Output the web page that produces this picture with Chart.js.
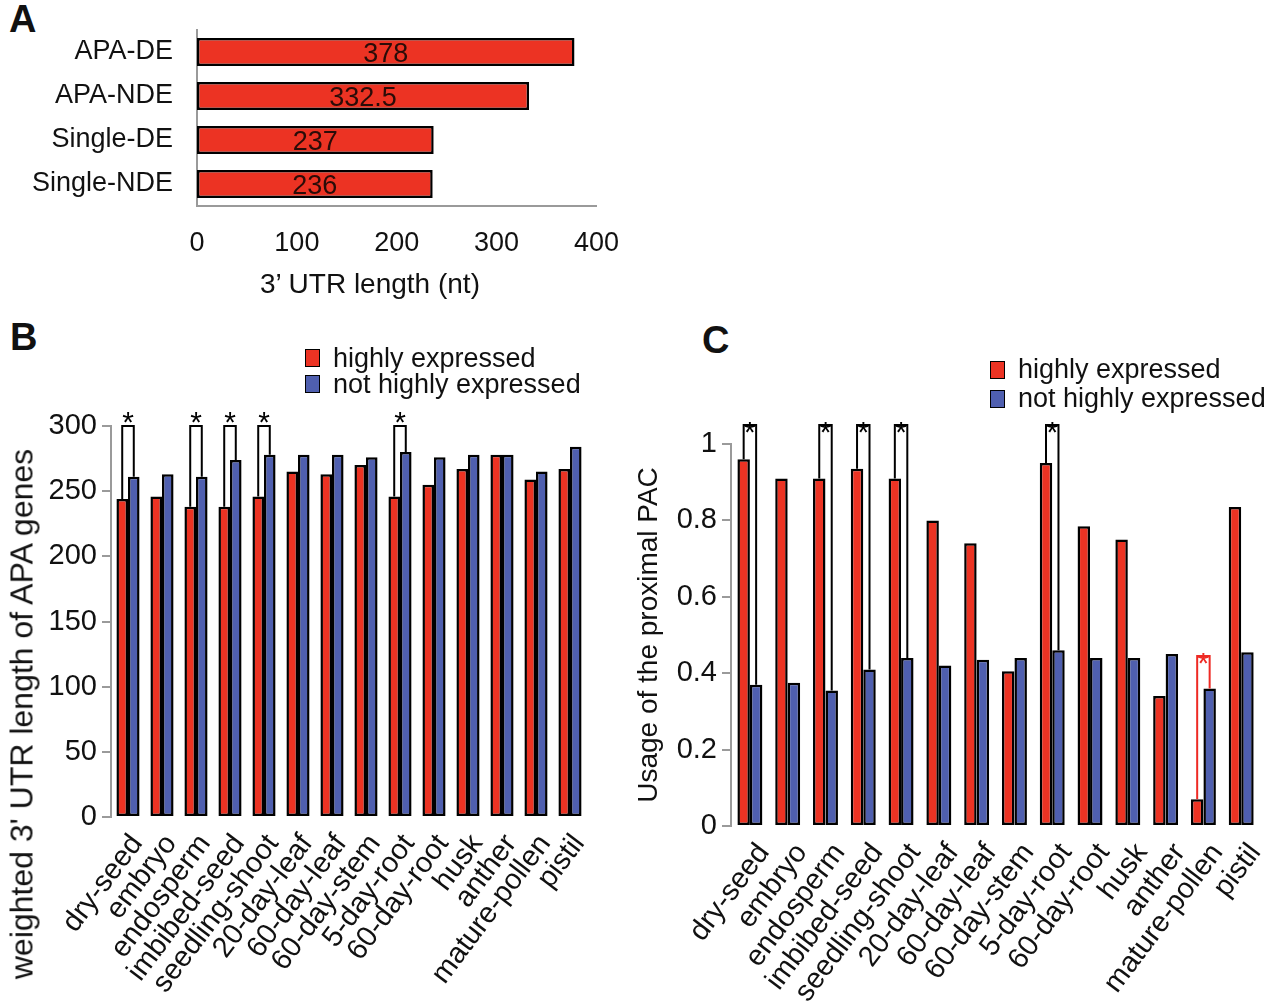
<!DOCTYPE html>
<html>
<head>
<meta charset="utf-8">
<script src="https://cdn.jsdelivr.net/npm/chart.js@4.4.1/dist/chart.umd.min.js"></script>
<style>
body { margin: 0; background: #fff; width: 1280px; height: 1005px; position: relative; overflow: hidden; font-family: "Liberation Sans", Arial, sans-serif; color: #111; }
canvas { position: absolute; }
.panel { position: absolute; font-weight: bold; font-size: 38px; line-height: 38px; }
.leg { position: absolute; font-size: 27px; white-space: nowrap; }
.leg .row { display: flex; align-items: center; }
.leg .sq { width: 13px; height: 16px; border: 1.5px solid #000; margin-right: 13px; }
.xlab { position: absolute; font-size: 28px; white-space: nowrap; transform: translate(-50%, -50%); }
.ylab { position: absolute; font-size: 32px; white-space: nowrap; transform: translate(-50%, -50%) rotate(-90deg); }
</style>
</head>
<body>
<div class="panel" style="left:9px;top:0px">A</div>
<div class="panel" style="left:10px;top:318px">B</div>
<div class="panel" style="left:702px;top:321px">C</div>

<canvas id="chartA" width="640" height="310" style="left:0;top:0"></canvas>
<canvas id="chartB" width="620" height="685" style="left:0;top:320px"></canvas>
<canvas id="chartC" width="660" height="685" style="left:620px;top:320px"></canvas>

<div class="leg" id="legB" style="left:305px;top:345px;line-height:26px"></div>
<div class="leg" id="legC" style="left:990px;top:355px;line-height:29px"></div>
<div class="xlab" style="left:370px;top:284px">3’ UTR length (nt)</div>
<div class="ylab" style="left:22px;top:714px">weighted 3' UTR length of APA genes</div>

<script>
// panel A
const groupsA = ['APA-DE', 'APA-NDE', 'Single-DE', 'Single-NDE'];
const utrA = [378, 332.5, 237, 236];

// panels B and C
const tissues = ['dry-seed', 'embryo', 'endosperm', 'imbibed-seed', 'seedling-shoot', '20-day-leaf',
  '60-day-leaf', '60-day-stem', '5-day-root', '60-day-root', 'husk', 'anther', 'mature-pollen', 'pistil'];
const seriesNames = ['highly expressed', 'not highly expressed'];
const utrHigh = [244, 246, 238, 238, 246, 265, 263, 270, 246, 255, 267, 278, 259, 267];
const utrNot  = [261, 263, 261, 274, 278, 278, 278, 276, 280, 276, 278, 278, 265, 284];
const pacHigh = [0.96, 0.91, 0.91, 0.935, 0.91, 0.80, 0.74, 0.405, 0.95, 0.785, 0.75, 0.34, 0.07, 0.835];
const pacNot  = [0.37, 0.375, 0.355, 0.41, 0.44, 0.42, 0.435, 0.44, 0.46, 0.44, 0.44, 0.45, 0.36, 0.455];
const sigB = ['dry-seed', 'endosperm', 'imbibed-seed', 'seedling-shoot', '5-day-root'];
const sigC = ['dry-seed', 'endosperm', 'imbibed-seed', 'seedling-shoot', '5-day-root'];
const sigCRed = ['mature-pollen'];

const RED = '#EC3323';
const BLUE = '#4F5FAF';
const FONT = '"Liberation Sans", Arial, sans-serif';
const AXIS = '#9a9a9a';

Chart.defaults.font.family = FONT;
Chart.defaults.color = '#111';
Chart.defaults.animation = false;

// legends
['legB', 'legC'].forEach(id => {
  const el = document.getElementById(id);
  el.innerHTML = seriesNames.map((n, k) =>
    `<div class="row"><span class="sq" style="background:${k ? BLUE : RED}"></span>${n}</div>`).join('');
});

const barLabels = {
  id: 'barLabels',
  afterDatasetsDraw(chart) {
    const ctx = chart.ctx;
    ctx.save();
    ctx.font = '27px ' + FONT;
    ctx.fillStyle = '#2a0c08';
    ctx.textAlign = 'center';
    ctx.textBaseline = 'middle';
    chart.getDatasetMeta(0).data.forEach((bar, i) => {
      ctx.fillText(String(utrA[i]), (bar.base + bar.x) / 2, bar.y + 3);
    });
    ctx.restore();
  }
};

const brackets = {
  id: 'brackets',
  afterDraw(chart, args, opts) {
    if (!opts.marks) return;
    const ctx = chart.ctx;
    const ys = chart.scales.y;
    const m0 = chart.getDatasetMeta(0).data;
    const m1 = chart.getDatasetMeta(1).data;
    ctx.save();
    opts.marks.forEach(mk => {
      const i = tissues.indexOf(mk.name);
      const a = m0[i], b = m1[i];
      const top = ys.getPixelForValue(mk.level);
      ctx.strokeStyle = mk.color;
      ctx.lineWidth = 2;
      ctx.beginPath();
      ctx.moveTo(a.x, a.y);
      ctx.lineTo(a.x, top);
      ctx.lineTo(b.x, top);
      ctx.lineTo(b.x, b.y);
      ctx.stroke();
      ctx.fillStyle = mk.color;
      ctx.font = '30px ' + FONT;
      ctx.textAlign = 'center';
      ctx.textBaseline = 'alphabetic';
      ctx.fillText('*', (a.x + b.x) / 2, top + opts.starDy);
    });
    ctx.restore();
  }
};

// A
new Chart(document.getElementById('chartA'), {
  type: 'bar',
  data: {
    labels: groupsA,
    datasets: [{
      data: utrA,
      backgroundColor: RED,
      borderColor: '#000',
      borderWidth: 2.5,
      borderSkipped: false,
      categoryPercentage: 1,
      barPercentage: 0.64
    }]
  },
  options: {
    indexAxis: 'y',
    responsive: false,
    devicePixelRatio: 1,
    layout: { padding: { left: 0, top: 30, right: 43, bottom: 0 } },
    plugins: { legend: { display: false }, tooltip: { enabled: false } },
    scales: {
      x: {
        min: 0, max: 400,
        afterFit: s => { s.height = 104; },
        grid: { display: false, drawTicks: false },
        border: { color: AXIS, width: 2 },
        ticks: { stepSize: 100, padding: 21, font: { size: 27 }, color: '#111' }
      },
      y: {
        afterFit: s => { s.width = 197; s.paddingTop = 0; s.paddingBottom = 0; },
        grid: { display: false, drawTicks: false },
        border: { color: AXIS, width: 2 },
        ticks: { padding: 24, font: { size: 27 }, color: '#111' }
      }
    }
  },
  plugins: [barLabels]
});

function groupedChart(id, high, low, opts) {
  return new Chart(document.getElementById(id), {
    type: 'bar',
    data: {
      labels: tissues,
      datasets: [
        { label: seriesNames[0], data: high, backgroundColor: RED },
        { label: seriesNames[1], data: low, backgroundColor: BLUE }
      ].map(d => Object.assign(d, {
        borderColor: '#000', borderWidth: 2.5, borderSkipped: false,
        categoryPercentage: opts.cat, barPercentage: 1
      }))
    },
    options: {
      responsive: false,
      devicePixelRatio: 1,
      layout: { padding: opts.padding },
      plugins: {
        legend: { display: false },
        tooltip: { enabled: false },
        brackets: { marks: opts.marks, starDy: opts.starDy }
      },
      scales: {
        x: {
          afterFit: s => { s.height = opts.xHeight; },
          grid: { display: false, drawTicks: false },
          border: { display: false },
          ticks: { autoSkip: false, minRotation: 53, maxRotation: 53, padding: 11, labelOffset: opts.labelShift, font: { size: 29 }, color: '#111' }
        },
        y: {
          min: 0, max: opts.max,
          afterFit: s => { s.width = opts.yWidth; },
          grid: { drawOnChartArea: false, color: AXIS, lineWidth: 2, tickLength: 9 },
          border: { color: AXIS, width: 2 },
          ticks: { stepSize: opts.step, padding: 5, font: { size: 29 }, color: '#111', callback: v => String(+v.toFixed(1)) },
          title: opts.yTitle
        }
      }
    },
    plugins: [brackets]
  });
}

// B
groupedChart('chartB', utrHigh, utrNot, {
  cat: 0.68, max: 300, step: 50, xHeight: 188, yWidth: 111, labelShift: 9,
  padding: { left: 0, top: 106, right: 33, bottom: 0 },
  yTitle: { display: false },
  starDy: 6,
  marks: sigB.map(n => ({ name: n, level: 300, color: '#000' }))
});

// C
groupedChart('chartC', pacHigh, pacNot, {
  cat: 0.66, max: 1, step: 0.2, xHeight: 179, yWidth: 111, labelShift: 14,
  padding: { left: 0, top: 124, right: 0, bottom: 0 },
  yTitle: { display: true, text: 'Usage of the proximal PAC', font: { size: 28 }, color: '#111', padding: { top: 12, bottom: 0 } },
  starDy: 17,
  marks: sigC.map(n => ({ name: n, level: 1.05, color: '#000' }))
    .concat(sigCRed.map(n => ({ name: n, level: 0.445, color: '#EE2A24' })))
});
</script>
</body>
</html>
